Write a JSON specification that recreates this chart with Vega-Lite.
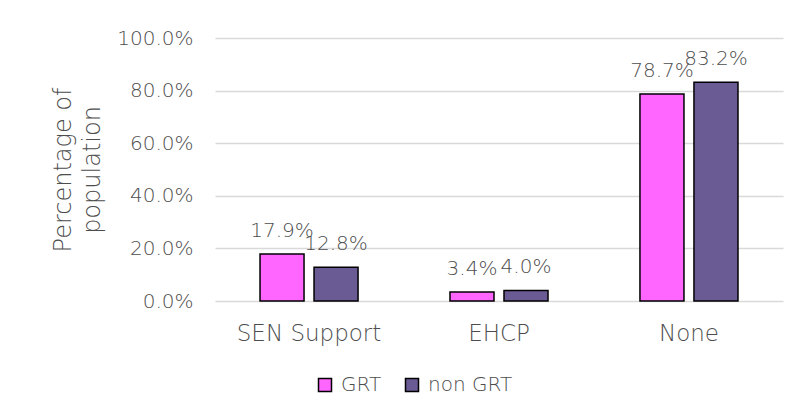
{
  "$schema": "https://vega.github.io/schema/vega-lite/v6.json",
  "autosize": {"type": "none"},
  "width": 568,
  "height": 263,
  "padding": {"left": 215, "top": 38, "right": 19, "bottom": 115},
  "background": "white",
  "config": {
    "font": "DejaVu Sans",
    "view": {"stroke": null},
    "axis": {"labelColor": "#4d4d4d", "titleColor": "#4d4d4d", "titleFontWeight": 300, "labelFontWeight": 300}
  },
  "data": {
    "values": [
      {"cat": "SEN Support", "group": "GRT", "value": 0.179},
      {"cat": "SEN Support", "group": "non GRT", "value": 0.128},
      {"cat": "EHCP", "group": "GRT", "value": 0.034},
      {"cat": "EHCP", "group": "non GRT", "value": 0.040},
      {"cat": "None", "group": "GRT", "value": 0.787},
      {"cat": "None", "group": "non GRT", "value": 0.832}
    ]
  },
  "encoding": {
    "x": {
      "field": "cat",
      "type": "nominal",
      "sort": ["SEN Support", "EHCP", "None"],
      "scale": {"paddingInner": 0.484, "paddingOuter": 0.237},
      "axis": {"title": null, "labelAngle": 0, "domain": false, "ticks": false, "labelFontSize": 23, "labelPadding": 21}
    },
    "xOffset": {
      "field": "group",
      "type": "nominal",
      "sort": ["GRT", "non GRT"],
      "scale": {"paddingInner": 0.185, "paddingOuter": 0}
    },
    "y": {
      "field": "value",
      "type": "quantitative",
      "scale": {"domain": [0, 1], "nice": false},
      "axis": {
        "title": ["Percentage of", "population"],
        "titleFontSize": 24,
        "titleLineHeight": 29,
        "titlePadding": 12,
        "format": ".1%",
        "values": [0, 0.2, 0.4, 0.6, 0.8, 1],
        "labelFontSize": 20,
        "labelPadding": 22,
        "domain": false,
        "ticks": false,
        "grid": true,
        "gridColor": "#d9d9d9",
        "gridWidth": 1.5
      }
    }
  },
  "layer": [
    {
      "mark": {"type": "bar", "stroke": "black", "strokeWidth": 1.5},
      "encoding": {
        "color": {
          "field": "group",
          "type": "nominal",
          "scale": {"domain": ["GRT", "non GRT"], "range": ["#FF66FF", "#6B5B95"]},
          "legend": {
            "title": null,
            "orient": "none",
            "legendX": 100,
            "legendY": 337,
            "direction": "horizontal",
            "symbolType": "square",
            "symbolSize": 169,
            "symbolStrokeColor": "black",
            "symbolStrokeWidth": 1.5,
            "labelFontSize": 20,
            "labelFontWeight": 300,
            "labelColor": "#4d4d4d",
            "labelOffset": 6,
            "columnPadding": 20
          }
        }
      }
    },
    {
      "mark": {"type": "text", "baseline": "alphabetic", "dy": -17, "fontSize": 20, "fontWeight": 300, "color": "#4d4d4d"},
      "encoding": {
        "text": {"field": "value", "type": "quantitative", "format": ".1%"}
      }
    }
  ]
}
